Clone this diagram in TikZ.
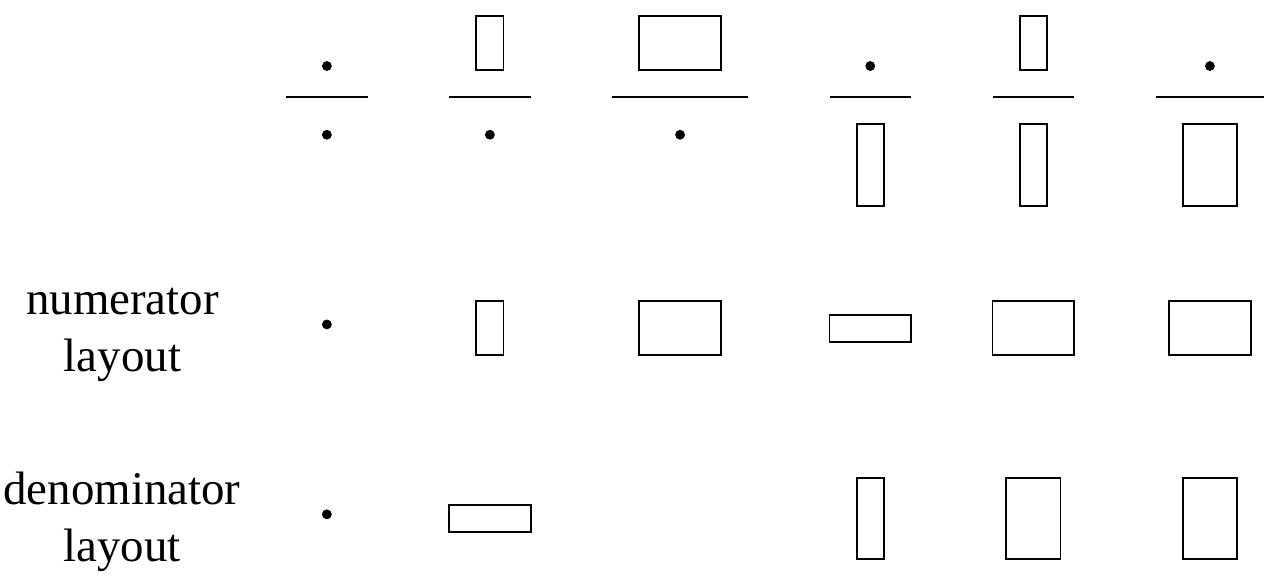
\documentclass[tikz,border=0pt]{standalone}
\usepackage{fontspec}
\setmainfont{Liberation Serif}
\usepackage{tikz}

\begin{document}
\begin{tikzpicture}[
							scale=0.5,
							dot/.style={circle, draw=black!100, fill=black!100, inner sep=0pt, minimum size=1.65mm},
							box/.style={draw=black!100, line width=1pt},
							bar/.style={draw=black!100, line width=1pt},
							lbl/.style={align=center, inner sep=0pt, font=\fontsize{24.55}{29.85}\selectfont}
						]
						\useasboundingbox (0.00, 0.00) rectangle (46.89, 21.42);
						
						% fraction bars
						\draw[bar] (10.53, 17.84) -- (13.53, 17.84);
						\draw[bar] (16.53, 17.84) -- (19.53, 17.84);
						\draw[bar] (22.53, 17.84) -- (27.53, 17.84);
						\draw[bar] (30.53, 17.84) -- (33.53, 17.84);
						\draw[bar] (36.53, 17.84) -- (39.53, 17.84);
						\draw[bar] (42.53, 17.84) -- (46.53, 17.84);
						
						% numerators
						\node[dot] (nodeTop1) at (12.03, 18.99) {};
						\draw[box] (17.53, 18.84) rectangle (18.53, 20.84);
						\draw[box] (23.53, 18.84) rectangle (26.53, 20.84);
						\node[dot] (nodeTop4) at (32.03, 18.99) {};
						\draw[box] (37.53, 18.84) rectangle (38.53, 20.84);
						\node[dot] (nodeTop6) at (44.53, 18.99) {};
						
						% denominators
						\node[dot] (nodeBot1) at (12.03, 16.46) {};
						\node[dot] (nodeBot2) at (18.03, 16.46) {};
						\node[dot] (nodeBot3) at (25.03, 16.46) {};
						\draw[box] (31.53, 13.84) rectangle (32.53, 16.84);
						\draw[box] (37.53, 13.84) rectangle (38.53, 16.84);
						\draw[box] (43.53, 13.84) rectangle (45.53, 16.84);
						
						% numerator layout
						\node[lbl] (nodNum) at (4.51, 9.09) {numerator\\layout};
						\node[dot] (nodeNum1) at (12.03, 9.48) {};
						\draw[box] (17.53, 8.34) rectangle (18.53, 10.34);
						\draw[box] (23.53, 8.34) rectangle (26.53, 10.34);
						\draw[box] (30.53, 8.84) rectangle (33.53, 9.84);
						\draw[box] (36.53, 8.34) rectangle (39.53, 10.34);
						\draw[box] (43.03, 8.34) rectangle (46.03, 10.34);
						
						% denominator layout
						\node[lbl] (nodDen) at (4.49, 2.23) {denominator\\layout};
						\node[dot] (nodeDen1) at (12.03, 2.49) {};
						\draw[box] (16.53, 1.84) rectangle (19.53, 2.84);
						\draw[box] (31.53, 0.84) rectangle (32.53, 3.84);
						\draw[box] (37.03, 0.84) rectangle (39.03, 3.84);
						\draw[box] (43.53, 0.84) rectangle (45.53, 3.84);
					\end{tikzpicture}
\end{document}
